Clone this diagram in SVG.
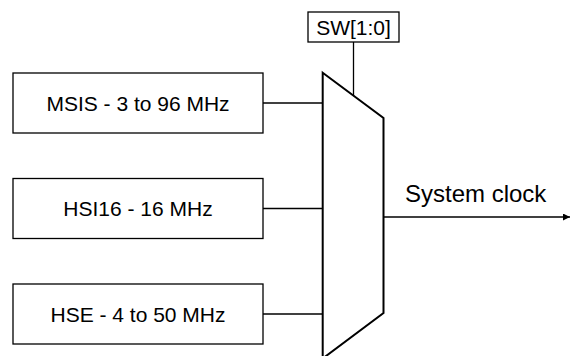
<svg xmlns="http://www.w3.org/2000/svg" width="570" height="356" viewBox="0 0 570 356">
<style>
  .box { fill: #fff; stroke: #000; stroke-width: 1.3; }
  .mux { fill: #fff; stroke: #000; stroke-width: 2; }
  .wire { fill: none; stroke: #000; stroke-width: 1.3; }
  .lbl { font-family: "Liberation Sans", Arial, sans-serif; font-size: 21px; fill: #000; }
  .out { font-family: "Liberation Sans", Arial, sans-serif; font-size: 24px; fill: #000; }
</style>
<defs>
  <marker id="arr" viewBox="0 0 10 10" refX="10" refY="5" markerWidth="7" markerHeight="7" markerUnits="userSpaceOnUse" orient="auto">
    <path d="M0,0 L10,5 L0,10 Z" fill="#000"/>
  </marker>
</defs>
<g id="connectors">
  <line class="wire" x1="263" y1="103" x2="323" y2="103"/>
  <line class="wire" x1="263" y1="208.5" x2="323" y2="208.5"/>
  <line class="wire" x1="263" y1="314" x2="323" y2="314"/>
  <line class="wire" x1="353.5" y1="42" x2="353.5" y2="96"/>
  <line class="wire" x1="383.5" y1="217" x2="570" y2="217" marker-end="url(#arr)"/>
</g>
<g id="mux">
  <polygon class="mux" points="322.7,72.7 383.5,118 383.5,313 322.7,358.5"/>
</g>
<g id="sw">
  <rect class="box" x="308" y="12" width="91" height="30"/>
  <text class="lbl" x="353.5" y="35" text-anchor="middle">SW[1:0]</text>
</g>
<g id="msis">
  <rect class="box" x="13" y="73" width="250" height="60"/>
  <text class="lbl" x="138" y="110.5" text-anchor="middle">MSIS - 3 to 96 MHz</text>
</g>
<g id="hsi16">
  <rect class="box" x="13" y="178.5" width="250" height="60"/>
  <text class="lbl" x="138" y="216" text-anchor="middle">HSI16 - 16 MHz</text>
</g>
<g id="hse">
  <rect class="box" x="13" y="284" width="250" height="60"/>
  <text class="lbl" x="138" y="321.5" text-anchor="middle">HSE - 4 to 50 MHz</text>
</g>
<g id="sysclk">
  <text class="out" x="405" y="202">System clock</text>
</g>
</svg>
